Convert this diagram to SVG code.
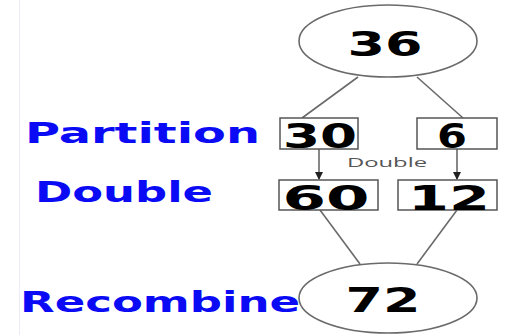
<svg xmlns="http://www.w3.org/2000/svg" width="506" height="335" viewBox="0 0 506 335">
<style>
.ell{fill:#fff;stroke:#6a6a6a;stroke-width:1.6}
.box{fill:#fff;stroke:#555;stroke-width:1.5}
.num{font-family:"DejaVu Sans",sans-serif;font-weight:bold;font-size:33px;fill:#000;text-anchor:middle}
.lab{font-family:"DejaVu Sans",sans-serif;font-weight:bold;font-size:28px;fill:#0a0af5}
.conn line{stroke:#6a6a6a;stroke-width:1.6}
.arr{stroke:#222;stroke-width:1.4}
.small{font-family:"Open Sans","DejaVu Sans",sans-serif;font-size:13px;fill:#555}
</style>
<defs>
<marker id="ah" markerWidth="8" markerHeight="8" refX="7" refY="4" orient="auto" markerUnits="userSpaceOnUse">
<path d="M0,0 L8,4 L0,8 Z" fill="#222"/>
</marker>
</defs>
<rect x="0" y="0" width="506" height="335" fill="#fff"/>
<line x1="19.5" y1="0" x2="19.5" y2="335" stroke="#ececf8" stroke-width="1"/>
<g id="connectors" class="conn">
<line x1="358" y1="77" x2="302" y2="118"/>
<line x1="417" y1="77" x2="463" y2="118"/>
<line x1="320" y1="210" x2="360" y2="264"/>
<line x1="457" y1="210" x2="417" y2="264"/>
<line class="arr" x1="319" y1="149" x2="319" y2="179" marker-end="url(#ah)"/>
<line class="arr" x1="457" y1="149" x2="457" y2="179" marker-end="url(#ah)"/>
<text class="small" x="387" y="167" text-anchor="middle" textLength="80" lengthAdjust="spacingAndGlyphs">Double</text>
</g>
<g id="node36">
<ellipse class="ell" cx="388" cy="41" rx="89" ry="36"/>
<text class="num" x="385" y="56" textLength="75" lengthAdjust="spacingAndGlyphs">36</text>
</g>
<g id="node30">
<rect class="box" x="280" y="118" width="78" height="31"/>
<text class="num" x="320" y="148" textLength="74" lengthAdjust="spacingAndGlyphs">30</text>
</g>
<g id="node6">
<rect class="box" x="417" y="118" width="80" height="31"/>
<text class="num" x="452" y="148" textLength="30" lengthAdjust="spacingAndGlyphs">6</text>
</g>
<g id="node60">
<rect class="box" x="279" y="180" width="99" height="30"/>
<text class="num" x="326" y="210" textLength="87" lengthAdjust="spacingAndGlyphs">60</text>
</g>
<g id="node12">
<rect class="box" x="398" y="180" width="99" height="30"/>
<text class="num" x="449" y="210" textLength="82" lengthAdjust="spacingAndGlyphs">12</text>
</g>
<g id="node72">
<ellipse class="ell" cx="388" cy="298" rx="89" ry="35"/>
<text class="num" x="383" y="312" textLength="75" lengthAdjust="spacingAndGlyphs">72</text>
</g>
<g id="labels">
<text class="lab" x="25" y="143" textLength="235" lengthAdjust="spacingAndGlyphs">Partition</text>
<text class="lab" x="35" y="202" textLength="178" lengthAdjust="spacingAndGlyphs">Double</text>
<text class="lab" x="20" y="312" textLength="280" lengthAdjust="spacingAndGlyphs">Recombine</text>
</g>
</svg>
